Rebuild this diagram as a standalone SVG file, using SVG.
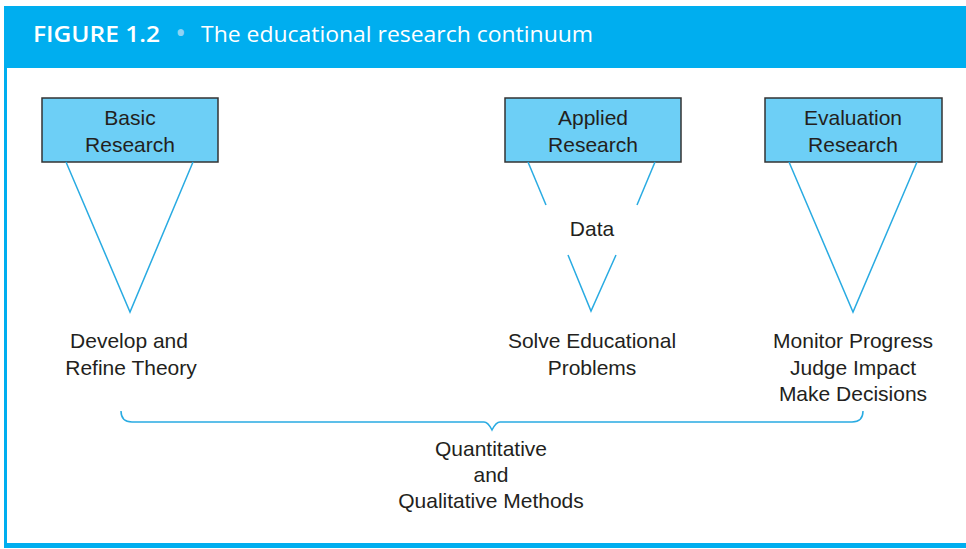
<svg xmlns="http://www.w3.org/2000/svg" width="966" height="549" viewBox="0 0 966 549">
<style>
.hdr{font-family:"Open Sans","Liberation Sans",sans-serif;font-size:22px;fill:#fff}
.box{fill:#6dcff6;stroke:#333;stroke-width:1.5}
.t{font-family:"Liberation Sans",Arial,sans-serif;font-size:21px;fill:#231f20;text-anchor:middle}
.ln{stroke:#29abe2;stroke-width:1.5;fill:none}
</style>
<rect x="0" y="0" width="966" height="549" fill="#fff"/>
<rect x="4" y="6" width="962" height="62" fill="#00aeef"/>
<rect x="4" y="68" width="3" height="480" fill="#00aeef"/>
<rect x="4" y="543" width="962" height="5" fill="#00aeef"/>
<text class="hdr" x="33" y="42" font-weight="600" textLength="127" lengthAdjust="spacingAndGlyphs">FIGURE 1.2</text>
<text class="hdr" x="175" y="43" style="fill:#8fd3f4;font-size:30px">•</text>
<text class="hdr" x="201" y="42" textLength="392" lengthAdjust="spacingAndGlyphs">The educational research continuum</text>
<g id="basic">
<rect class="box" x="42" y="98" width="176" height="64"/>
<text class="t" x="130" y="125">Basic</text>
<text class="t" x="130" y="152">Research</text>
</g>
<g id="applied">
<rect class="box" x="505" y="98" width="176" height="64"/>
<text class="t" x="593" y="125">Applied</text>
<text class="t" x="593" y="152">Research</text>
</g>
<g id="evaluation">
<rect class="box" x="765" y="98" width="177" height="64"/>
<text class="t" x="853" y="125">Evaluation</text>
<text class="t" x="853" y="152">Research</text>
</g>
<g id="data"><text class="t" x="592" y="236">Data</text></g>
<g id="develop">
<text class="t" x="129" y="348">Develop and</text>
<text class="t" x="131" y="375">Refine Theory</text>
</g>
<g id="solve">
<text class="t" x="592" y="348">Solve Educational</text>
<text class="t" x="592" y="375">Problems</text>
</g>
<g id="monitor">
<text class="t" x="853" y="348">Monitor Progress</text>
<text class="t" x="853" y="375">Judge Impact</text>
<text class="t" x="853" y="401">Make Decisions</text>
</g>
<g id="methods">
<text class="t" x="491" y="456">Quantitative</text>
<text class="t" x="491" y="482">and</text>
<text class="t" x="491" y="508">Qualitative Methods</text>
</g>
<g id="connectors">
<polyline class="ln" points="66,162 130,312 193,162"/>
<line class="ln" x1="528" y1="162" x2="546" y2="205"/>
<line class="ln" x1="655" y1="162" x2="637" y2="205"/>
<polyline class="ln" points="568,255 591,311 616,255"/>
<polyline class="ln" points="789,162 853,312 917,162"/>
<path class="ln" d="M121,411 Q121,422 132,422 L484,422 Q488,422 492,430 Q496,422 500,422 L852,422 Q863,422 863,411"/>
</g>
</svg>
